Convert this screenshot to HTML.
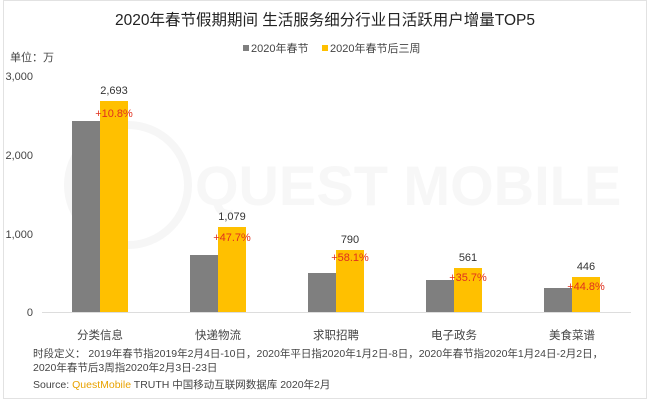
<!DOCTYPE html>
<html><head><meta charset="utf-8"><style>
html,body{margin:0;padding:0;background:#fff}
body{width:650px;height:400px;overflow:hidden}
svg text{font-family:"Liberation Sans","Noto Sans CJK SC",sans-serif}
</style></head><body>
<svg width="650" height="400" viewBox="0 0 650 400" xmlns="http://www.w3.org/2000/svg">
<rect x="3.5" y="0.5" width="643" height="398" fill="none" stroke="#e2e2e2"/>
<circle cx="128" cy="185" r="60" fill="none" stroke="#f6f6f6" stroke-width="8"/>
<text x="195" y="205" font-size="56" fill="#f7f7f7" font-weight="bold">QUEST MOBILE</text>
<text x="325" y="25" font-size="15.5" fill="#222" text-anchor="middle">2020年春节假期期间 生活服务细分行业日活跃用户增量TOP5</text>
<rect x="243" y="45" width="6" height="6" fill="#7f7f7f"/>
<text x="251" y="52" font-size="11" fill="#444">2020年春节</text>
<rect x="322" y="45" width="6" height="6" fill="#ffc000"/>
<text x="330" y="52" font-size="11" fill="#444">2020年春节后三周</text>
<text x="10" y="61" font-size="11" fill="#444">单位：万</text>
<g font-size="11" fill="#444" text-anchor="end">
<text x="33" y="80">3,000</text><text x="33" y="159">2,000</text><text x="33" y="238">1,000</text><text x="33" y="316">0</text>
</g>
<line x1="42" y1="312.5" x2="631" y2="312.5" stroke="#ddd"/>
<g fill="#7f7f7f">
<rect x="72" y="121" width="28" height="191"/>
<rect x="190" y="255" width="28" height="57"/>
<rect x="308" y="273" width="28" height="39"/>
<rect x="426" y="280" width="28" height="32"/>
<rect x="544" y="288" width="28" height="24"/>
</g>
<g fill="#ffc000">
<rect x="100" y="101" width="28" height="211"/>
<rect x="218" y="227" width="28" height="85"/>
<rect x="336" y="250" width="28" height="62"/>
<rect x="454" y="268" width="28" height="44"/>
<rect x="572" y="277" width="28" height="35"/>
</g>
<g font-size="11" fill="#333" text-anchor="middle">
<text x="114" y="94">2,693</text><text x="232" y="220">1,079</text><text x="350" y="243">790</text><text x="468" y="261">561</text><text x="586" y="270">446</text>
</g>
<g font-size="11" fill="#e0301e" text-anchor="middle">
<text x="114" y="117">+10.8%</text><text x="232" y="241">+47.7%</text><text x="350" y="261">+58.1%</text><text x="468" y="281">+35.7%</text><text x="586" y="290">+44.8%</text>
</g>
<g font-size="11.5" fill="#444" text-anchor="middle">
<text x="100" y="339">分类信息</text><text x="218" y="339">快递物流</text><text x="336" y="339">求职招聘</text><text x="454" y="339">电子政务</text><text x="572" y="339">美食菜谱</text>
</g>
<text x="33" y="357" font-size="10.5" fill="#444">时段定义： 2019年春节指2019年2月4日-10日，2020年平日指2020年1月2日-8日，2020年春节指2020年1月24日-2月2日，</text>
<text x="33" y="371" font-size="10.5" fill="#444">2020年春节后3周指2020年2月3日-23日</text>
<text x="33" y="388" font-size="10.5" fill="#444">Source:  <tspan fill="#e8a200">QuestMobile</tspan> TRUTH 中国移动互联网数据库 2020年2月</text>
</svg>
</body></html>
